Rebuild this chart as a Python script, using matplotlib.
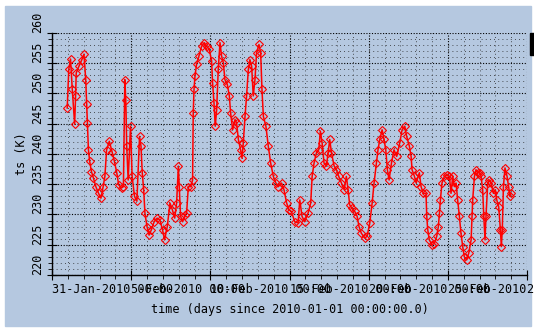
import matplotlib
matplotlib.use("Agg")
import matplotlib.pyplot as plt
from matplotlib.patches import Rectangle
from matplotlib.ticker import MultipleLocator, FixedLocator

# time in days since 2010-01-01, surface temperature in K
days = [
    30.96, 31.06, 31.17, 31.28, 31.43, 31.49, 31.53, 31.70, 31.87, 32.02,
    32.13, 32.19, 32.24, 32.30, 32.38, 32.49, 32.62, 32.77, 32.94, 33.09,
    33.23, 33.34, 33.45, 33.62, 33.79, 33.94, 34.09, 34.21, 34.40, 34.51,
    34.60, 34.66, 34.72, 34.81, 34.96, 35.06, 35.21, 35.36, 35.53, 35.62,
    35.70, 35.79, 35.87, 36.00, 36.13, 36.28, 36.45, 36.64, 36.81, 36.98,
    37.11, 37.28, 37.45, 37.60, 37.75, 37.87, 37.98, 38.04, 38.12, 38.25,
    38.40, 38.50, 38.61, 38.76, 38.88, 38.92, 38.97, 39.03, 39.13, 39.28,
    39.45, 39.62, 39.77, 39.93, 40.08, 40.14, 40.23, 40.31, 40.40, 40.50,
    40.61, 40.71, 40.82, 40.92, 41.07, 41.20, 41.28, 41.41, 41.56, 41.66,
    41.77, 41.91, 42.00, 42.08, 42.19, 42.29, 42.40, 42.50, 42.61, 42.71,
    42.82, 42.92, 43.07, 43.18, 43.26, 43.35, 43.51, 43.66, 43.81, 43.98,
    44.14, 44.29, 44.50, 44.65, 44.82, 44.95, 45.12, 45.33, 45.54, 45.65,
    45.79, 45.96, 46.17, 46.34, 46.43, 46.55, 46.70, 46.85, 46.95, 47.06,
    47.18, 47.33, 47.44, 47.54, 47.65, 47.82, 47.96, 48.11, 48.28, 48.45,
    48.59, 48.70, 48.80, 48.95, 49.12, 49.27, 49.39, 49.54, 49.75, 49.90,
    50.07, 50.22, 50.34, 50.49, 50.59, 50.70, 50.85, 50.97, 51.08, 51.18,
    51.29, 51.44, 51.60, 51.77, 51.96, 52.11, 52.28, 52.40, 52.57, 52.68,
    52.74, 52.89, 53.00, 53.20, 53.31, 53.45, 53.62, 53.67, 53.73, 53.83,
    54.00, 54.15, 54.30, 54.40, 54.47, 54.53, 54.63, 54.78, 54.93, 55.10,
    55.20, 55.31, 55.41, 55.52, 55.62, 55.73, 55.83, 55.94, 56.04, 56.19,
    56.32, 56.47, 56.53, 56.57, 56.68, 56.78, 56.89, 57.00, 57.10, 57.20,
    57.27, 57.35, 57.41, 57.52, 57.62, 57.73, 57.88, 58.00, 58.09, 58.21,
    58.32, 58.38, 58.44, 58.51, 58.61, 58.74, 58.84, 58.93, 58.99,
]
ts = [
    247.6, 254.0, 255.7, 250.7, 244.9, 249.6, 253.4, 254.5, 255.5, 256.5,
    252.3, 248.2, 245.1, 240.7, 238.8, 237.1, 236.0, 234.6, 233.5, 232.7,
    234.6, 236.3, 240.7, 242.1, 240.4, 238.8, 236.9, 234.9, 234.4, 234.6,
    252.3, 249.0, 241.3, 235.7, 244.6, 236.3, 233.0, 232.2, 242.9, 241.3,
    236.9, 234.1, 230.2, 228.0, 226.6, 227.5, 228.8, 229.4, 229.1, 227.5,
    225.8, 228.0, 231.9, 230.8, 229.4, 231.9, 238.0, 234.6, 229.7, 228.8,
    229.9, 230.2, 234.6, 234.6, 235.7, 246.8, 250.7, 252.9, 254.8, 256.2,
    257.8, 258.4, 257.8, 257.3, 255.4, 251.8, 248.5, 244.6, 247.3, 254.0,
    258.4, 256.2, 255.1, 252.3, 251.5, 249.6, 246.8, 244.0, 245.7, 245.1,
    242.4, 240.7, 239.3, 241.8, 246.2, 249.6, 254.0, 255.6, 254.5, 249.6,
    252.3, 256.7, 258.1, 256.7, 250.7, 246.2, 244.6, 241.3, 238.5, 236.3,
    235.2, 234.6, 235.2, 234.1, 231.9, 230.8, 230.5, 228.8, 228.6, 232.4,
    229.7, 228.8, 230.2, 231.9, 236.3, 238.5, 240.2, 240.7, 243.8, 241.8,
    238.5, 238.0, 240.2, 242.4, 240.2, 238.0, 237.4, 236.3, 235.2, 234.1,
    236.3, 234.1, 231.6, 231.0, 230.5, 229.7, 228.0, 226.9, 226.1, 226.4,
    228.6, 231.9, 235.2, 238.5, 240.7, 242.4, 244.0, 242.4, 240.7, 237.4,
    235.7, 238.5, 240.7, 239.6, 241.8, 244.0, 244.6, 242.9, 241.3, 239.6,
    237.4, 236.3, 235.2, 236.9, 234.6, 233.5, 233.5, 229.7, 227.5, 225.8,
    225.0, 225.2, 226.4, 228.0, 230.2, 232.4, 235.2, 236.3, 236.6, 236.3,
    233.5, 236.3, 234.6, 235.2, 232.4, 229.7, 226.9, 224.7, 223.0, 222.5,
    223.6, 225.8, 229.7, 232.4, 236.3, 237.4, 236.9, 236.9, 236.3, 234.1,
    229.7, 225.8, 229.7, 235.2, 235.7, 235.2, 233.5, 234.1, 232.4, 231.3,
    227.5, 224.7, 227.5, 234.6, 237.7, 236.3, 234.6, 233.0, 233.5,
]

tick_days = [30, 35, 40, 45, 50, 55, 60]
tick_labels = ["31-Jan-2010 00:00", "5-Feb-2010 00:00", "10-Feb-2010 00:00",
               "15-Feb-2010 00:00", "20-Feb-2010 00:00", "25-Feb-2010 00:00",
               "2-Mar-2010 00:00"]
ts_ticks = [220, 225, 230, 235, 240, 245, 250, 255, 260]

bg = "#b5c8e0"
mono = "DejaVu Sans Mono"
fsize = 8.5

fig = plt.figure(figsize=(5.34, 3.31), dpi=100, facecolor="white")
# light blue panel, leaving a thin white frame like the screenshot
fig.patches.append(Rectangle((5 / 534, 5 / 331), 526 / 534, 320 / 331,
                             transform=fig.transFigure, color=bg, zorder=-2))
fig.patches.append(Rectangle((530 / 534, 1 - 55 / 331), 4 / 534, 22 / 331,
                             transform=fig.transFigure, color="black", zorder=-1))

ax = fig.add_axes([52 / 534, 1 - 275 / 331, 475 / 534, 242 / 331])
ax.set_facecolor(bg)

ax.plot(days, ts, color="red", linewidth=1.1, marker="D", markersize=3.9,
        markerfacecolor="none", markeredgecolor="red", markeredgewidth=0.8,
        zorder=3)

ax.set_xlim(30, 60)
ax.set_ylim(220, 260)

ax.xaxis.set_major_locator(FixedLocator(tick_days))
ax.xaxis.set_minor_locator(MultipleLocator(1))
ax.yaxis.set_major_locator(FixedLocator(ts_ticks))
ax.yaxis.set_minor_locator(MultipleLocator(1))

ax.tick_params(which="major", direction="inout", length=7, width=0.8, pad=2)
ax.tick_params(which="minor", direction="out", length=3, width=0.6)
ax.tick_params(axis="y", labelleft=False)

ax.grid(which="major", color="black", linestyle=(0, (1, 1.5)), linewidth=0.8)
ax.grid(which="minor", color="#222222", linestyle=(0, (1, 4)), linewidth=0.6)
ax.set_axisbelow(True)

for side in ["top", "right"]:
    ax.spines[side].set_visible(False)
for side in ["left", "bottom"]:
    ax.spines[side].set_linewidth(1.0)

ax.set_xticklabels(tick_labels, family=mono, fontsize=fsize, ha="left")

# y labels start at their tick and run upwards, as in the original
for v in ts_ticks:
    ax.text(-0.017, v, str(v), transform=ax.get_yaxis_transform(),
            family=mono, fontsize=fsize, rotation=90, rotation_mode="anchor",
            ha="left", va="bottom", clip_on=False)

ax.set_xlabel("time (days since 2010-01-01 00:00:00.0)", family=mono, fontsize=fsize)
ax.set_ylabel("ts (K)", family=mono, fontsize=fsize)
ax.xaxis.set_label_coords(0.5, -0.115)
ax.yaxis.set_label_coords(-0.05, 0.5)

fig.savefig("out.png", dpi=100, facecolor="white")
